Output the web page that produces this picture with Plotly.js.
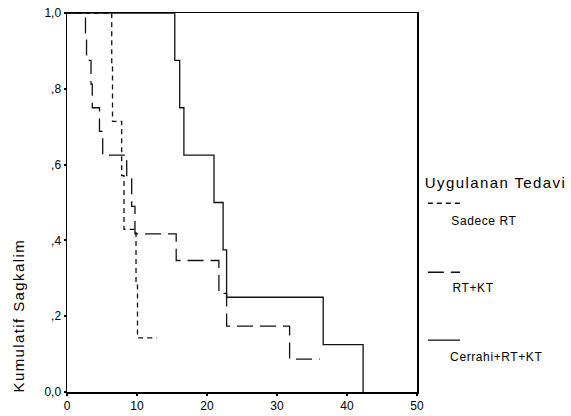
<!DOCTYPE html>
<html>
<head>
<meta charset="utf-8">
<script src="https://cdn.plot.ly/plotly-3.0.1.min.js"></script>
<style>
html,body{margin:0;padding:0;background:#fff;}
#chart{width:571px;height:416px;}
.annotation[data-index="0"] text, .annotation[data-index="1"] text{letter-spacing:1.4px;}
.annotation[data-index="2"] text, .annotation[data-index="3"] text, .annotation[data-index="4"] text{letter-spacing:0.6px;}
</style>
</head>
<body>
<div id="chart"></div>
<script>
// Kaplan-Meier step data (time, cumulative survival)
const sadeceTime = [0, 6.39, 6.5, 7.81, 8.14, 9.86, 10.07, 12.8];
const sadeceSurv = [1.0, 0.857, 0.714, 0.571, 0.429, 0.286, 0.143, 0.143];

const rtktTime = [0, 2.64, 2.79, 3.43, 3.61, 4.64, 5.1, 8.53, 9.24, 9.71, 15.6, 21.7, 22.8, 31.8, 36.1];
const rtktSurv = [1.0, 0.9375, 0.875, 0.8125, 0.75, 0.6875, 0.625, 0.5625, 0.49, 0.417, 0.347, 0.26, 0.174, 0.087, 0.087];

const cerrahiTime = [0, 15.4, 16.1, 16.7, 21.0, 22.3, 22.8, 36.6, 42.3];
const cerrahiSurv = [1.0, 0.875, 0.75, 0.625, 0.5, 0.375, 0.25, 0.125, 0.0];

const seriesNames = ["Sadece RT", "RT+KT", "Cerrahi+RT+KT"];
const xTickVals = [0, 10, 20, 30, 40, 50];
const xTickText = ["0", "10", "20", "30", "40", "50"];
const yTickVals = [0, 0.2, 0.4, 0.6, 0.8, 1.0];
const yTickText = ["0,0", ",2", ",4", ",6", ",8", "1,0"];
const yTitle = "Kumulatif Sagkalim";
const legendTitle = "Uygulanan Tedavi";

const FONT = "Liberation Sans, Arial, sans-serif";
const dashes = ["5px,4px", "16px,7px", "solid"];

const traces = [
  {x: sadeceTime, y: sadeceSurv, name: seriesNames[0], mode: "lines",
   line: {shape: "hv", color: "#111", width: 1.3, dash: dashes[0]}, cliponaxis: false},
  {x: rtktTime, y: rtktSurv, name: seriesNames[1], mode: "lines",
   line: {shape: "hv", color: "#111", width: 1.3, dash: dashes[1]}, cliponaxis: false},
  {x: cerrahiTime, y: cerrahiSurv, name: seriesNames[2], mode: "lines",
   line: {shape: "hv", color: "#111", width: 1.3, dash: dashes[2]}, cliponaxis: false}
];

const legY = [0.498, 0.316, 0.137];
const labY = [0.451, 0.274, 0.092];
const shapes = legY.map((y, i) => ({
  type: "line", xref: "paper", yref: "paper", x0: 1.031, x1: 1.123, y0: y, y1: y,
  line: {color: "#111", width: 1.3, dash: dashes[i]}
}));

const annotations = [
  {text: yTitle, xref: "paper", yref: "paper", x: -0.138, y: 0.2, xanchor: "center", yanchor: "middle",
   textangle: -90, showarrow: false, font: {family: FONT, size: 15, color: "#000"}},
  {text: legendTitle, xref: "paper", yref: "paper", x: 1.049, y: 0.554, xanchor: "left", yanchor: "middle",
   showarrow: false, font: {family: FONT, size: 15, color: "#000"}}
].concat(seriesNames.map((n, i) => ({
  text: n, xref: "paper", yref: "paper", x: 1.101, y: labY[i], xanchor: "left", yanchor: "middle",
  showarrow: false, font: {family: FONT, size: 12, color: "#000"}
})));

const layout = {
  width: 571, height: 416,
  margin: {l: 67, r: 154, t: 13, b: 24, pad: 0},
  paper_bgcolor: "#fff", plot_bgcolor: "#fff",
  showlegend: false,
  font: {family: FONT, size: 12, color: "#000"},
  xaxis: {range: [0, 50], tickvals: xTickVals, ticktext: xTickText, showgrid: false, zeroline: false,
          showline: true, mirror: true, linecolor: "#000", linewidth: 1.5,
          ticks: "outside", ticklen: 2, tickwidth: 2, tickcolor: "#000",
          tickfont: {family: FONT, size: 12, color: "#000"}, fixedrange: true},
  yaxis: {range: [0, 1], tickvals: yTickVals, ticktext: yTickText, showgrid: false, zeroline: false,
          showline: true, mirror: true, linecolor: "#000", linewidth: 1.5,
          ticks: "outside", ticklen: 2, tickwidth: 2, tickcolor: "#000",
          tickfont: {family: FONT, size: 12, color: "#000"}, fixedrange: true},
  shapes: shapes,
  annotations: annotations
};

Plotly.newPlot("chart", traces, layout, {displayModeBar: false, staticPlot: true});
</script>
</body>
</html>
